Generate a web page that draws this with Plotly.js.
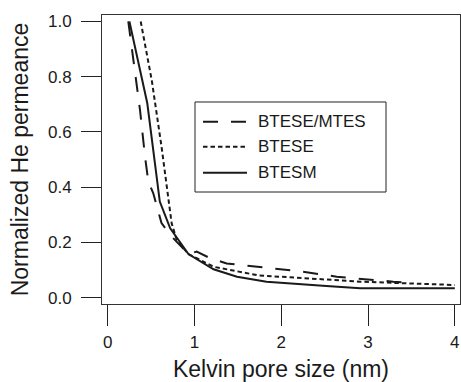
<!DOCTYPE html>
<html>
<head>
<meta charset="utf-8">
<script src="https://cdn.plot.ly/plotly-3.0.1.min.js"></script>
<style>html,body{margin:0;padding:0;background:#fff;}#chart{width:461px;height:382px;}</style>
</head>
<body>
<div id="chart"></div>
<script>
// Series: BTESE/MTES (dashed)
const mtesX = [0.237, 0.288, 0.372, 0.43, 0.468, 0.525, 0.62, 0.72, 0.93, 1.025, 1.18, 1.37, 1.75, 2.25, 2.64, 2.98, 3.29, 3.45];
const mtesY = [1.0, 0.873, 0.68, 0.51, 0.42, 0.378, 0.27, 0.227, 0.158, 0.167, 0.143, 0.124, 0.110, 0.094, 0.076, 0.066, 0.058, 0.055];
// Series: BTESE (dotted)
const bteseX = [0.38, 0.507, 0.62, 0.737, 0.795, 0.93, 1.22, 1.75, 2.1, 2.91, 4.0];
const bteseY = [1.0, 0.788, 0.547, 0.269, 0.209, 0.158, 0.112, 0.080, 0.074, 0.058, 0.046];
// Series: BTESM (solid)
const btesmX = [0.25, 0.456, 0.60, 0.72, 0.93, 1.22, 1.49, 1.83, 2.52, 2.91, 4.0];
const btesmY = [1.0, 0.704, 0.348, 0.251, 0.158, 0.103, 0.076, 0.058, 0.042, 0.034, 0.034];

const names = ["BTESE/MTES", "BTESE", "BTESM"];
const xTicks = [0, 1, 2, 3, 4];
const yTicks = [0.0, 0.2, 0.4, 0.6, 0.8, 1.0];
const yTickText = ["0.0", "0.2", "0.4", "0.6", "0.8", "1.0"];

const FONT = "Liberation Sans, Arial, Helvetica, sans-serif";
const ink = "#1a1a1a";
const dashes = ["15px,13px", "4.5px,3px", "solid"];

const traces = [
  {x: mtesX, y: mtesY, name: names[0], mode: "lines", line: {color: ink, width: 2, dash: dashes[0]}},
  {x: bteseX, y: bteseY, name: names[1], mode: "lines", line: {color: ink, width: 2, dash: dashes[1]}},
  {x: btesmX, y: btesmY, name: names[2], mode: "lines", line: {color: ink, width: 2, dash: dashes[2]}}
];

// Legend drawn as a framed key (paper coordinates)
const legBox = {x0: 0.2598, x1: 0.7933, y0: 0.3875, y1: 0.699};
const legRowsY = [0.6308, 0.5443, 0.4543];
const legLineX = [0.2821, 0.4050];
const legTextX = 0.4302;

const shapes = [{
  type: "rect", xref: "paper", yref: "paper",
  x0: legBox.x0, x1: legBox.x1, y0: legBox.y0, y1: legBox.y1,
  line: {color: "#222", width: 1}, fillcolor: "#fff", layer: "above"
}];
const annotations = [];
names.forEach((n, i) => {
  shapes.push({
    type: "line", xref: "paper", yref: "paper",
    x0: legLineX[0], x1: legLineX[1], y0: legRowsY[i], y1: legRowsY[i],
    line: {color: ink, width: 2, dash: dashes[i]}, layer: "above"
  });
  annotations.push({
    xref: "paper", yref: "paper", x: legTextX, y: legRowsY[i],
    xanchor: "left", yanchor: "middle", text: n, showarrow: false,
    font: {family: FONT, size: 17, color: ink}
  });
});

const layout = {
  width: 461, height: 382,
  margin: {l: 102, r: 1, t: 15, b: 78, pad: 0},
  paper_bgcolor: "#fff", plot_bgcolor: "#fff",
  font: {family: FONT, color: ink, size: 17},
  showlegend: false,
  shapes: shapes,
  annotations: annotations,
  xaxis: {
    range: [-0.066, 4.06], tickvals: xTicks, ticktext: xTicks.map(String),
    showgrid: false, zeroline: false,
    showline: true, linecolor: "#333", linewidth: 1, mirror: true,
    ticks: "outside", ticklen: 21, tickwidth: 1, tickcolor: "#222",
    ticklabelstandoff: 2,
    tickfont: {family: FONT, size: 17, color: ink},
    title: {text: "Kelvin pore size (nm)", font: {family: FONT, size: 23, color: ink}, standoff: 14}
  },
  yaxis: {
    range: [-0.0228, 1.0235], tickvals: yTicks, ticktext: yTickText,
    showgrid: false, zeroline: false,
    showline: true, linecolor: "#333", linewidth: 1, mirror: true,
    ticks: "outside", ticklen: 20, tickwidth: 1, tickcolor: "#222",
    ticklabelstandoff: 6,
    tickfont: {family: FONT, size: 17, color: ink},
    title: {text: "Normalized He permeance", font: {family: FONT, size: 23, color: ink}, standoff: 12}
  }
};

Plotly.newPlot("chart", traces, layout, {displayModeBar: false, staticPlot: true});
</script>
</body>
</html>
